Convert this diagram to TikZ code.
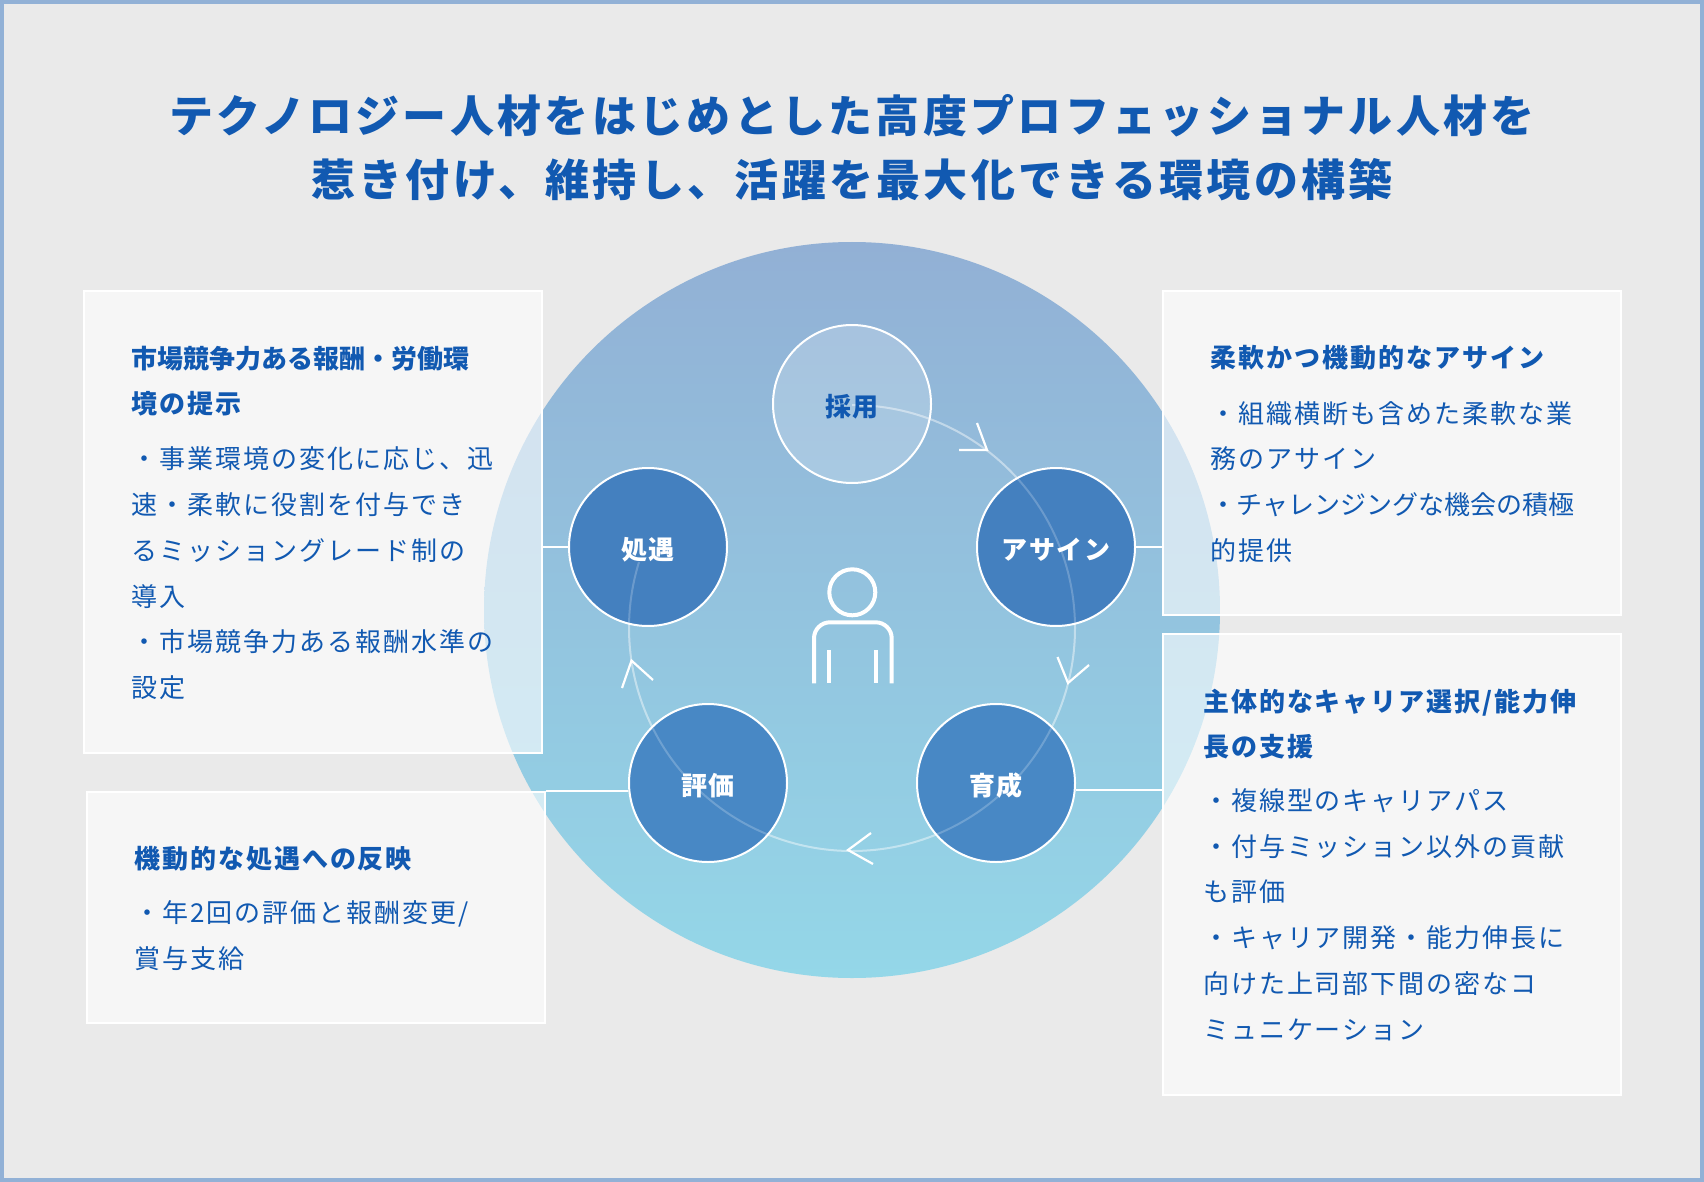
\documentclass[tikz,border=0pt]{standalone}
\usepackage{xcolor}
\usepackage{fontspec}
\setmainfont{Noto Sans CJK JP}[LetterSpace=7.5]
\newfontfamily\titlefont{Noto Sans CJK JP}[LetterSpace=7.5]
\newfontfamily\tightfont{Noto Sans CJK JP}[LetterSpace=0]
\usepackage{tikz}
\definecolor{framecol}{HTML}{92B1D6}
\definecolor{paper}{HTML}{EAEAEA}
\definecolor{inkblue}{HTML}{1159B1}
\definecolor{discup}{HTML}{92B0D5}
\definecolor{discdown}{HTML}{94D7E8}
\definecolor{stepup}{HTML}{4480BF}
\definecolor{stepdown}{HTML}{4888C5}
\tikzset{
	infobox/.style={draw=white,line width=2pt,fill=white,fill opacity=0.6,draw opacity=1,
		anchor=north west,inner sep=0pt,minimum width=458pt},
	infotext/.style={anchor=north west,inner sep=0pt,align=left,text=inkblue,
		font=\fontsize{26}{45.7}\selectfont},
	stepcirc/.style={circle,draw=white,line width=2pt,inner sep=0pt,minimum size=158pt},
	steplabel/.style={inner sep=0pt,yshift=-3pt,font=\fontsize{26}{30}\selectfont\bfseries,text=white},
	linkline/.style={draw=white,line width=2pt},
	ringline/.style={draw=white,line width=2pt,opacity=0.29},
	ringover/.style={draw=white,line width=2pt,opacity=0.21},
	headline/.style={draw=white,line width=2.2pt},
	manline/.style={draw=white,line width=4pt}
}
\begin{document}
\begin{tikzpicture}[x=1pt,y=-1pt]
		\useasboundingbox (0,0) rectangle (1704,1182);
		\draw [line width=4pt,draw=framecol,fill=paper] (2,2) rectangle (1702,1180); %外枠
		\shade [top color=discup,bottom color=discdown] (852,610) circle [radius=368]; %大円

		\node (title) [text=inkblue,align=center,inner sep=0pt,font=\fontsize{44}{64}\selectfont\titlefont\bfseries] at (852,147.5)
			{テクノロジー人材をはじめとした高度プロフェッショナル人材を\\惹き付け、維持し、活躍を最大化できる環境の構築};

		\node (boxL) [infobox,minimum height=462pt] at (83,290) {};
		\node (boxE) [infobox,minimum height=231pt] at (86,790.5) {};
		\node (boxA) [infobox,minimum height=324pt] at (1162,290) {};
		\node (boxD) [infobox,minimum height=461pt] at (1162,633) {};

		\draw [ringline] (852,405) arc [start angle=-90,end angle=197.2,radius=223]; %循環の弧

		\node (saiyo) [stepcirc,fill=white,fill opacity=0.2,draw opacity=1] at (852,404) {};
		\node (assign) [stepcirc,fill=stepup] at (1056,547) {};
		\node (ikusei) [stepcirc,fill=stepdown] at (996,783) {};
		\node (hyoka) [stepcirc,fill=stepdown] at (708,783) {};
		\node (shogu) [stepcirc,fill=stepup] at (648,547) {};

		\draw [linkline] (shogu.west) -- (shogu.west -| boxL.east);
		\draw [linkline] (assign.east) -- (assign.east -| boxA.west);
		\draw [linkline] (ikusei.-5) -- (ikusei.-5 -| boxD.west);
		\draw [linkline] (hyoka.186.2) -- (hyoka.186.2 -| boxE.east);

		\draw [ringover] (852,405) arc [start angle=-90,end angle=197.2,radius=223];
		\draw [headline] (959,450) -- (987,450) -- (977,423); %矢印
		\draw [headline] (1057.5,657) -- (1068,683) -- (1089,665);
		\draw [headline] (871,833) -- (848,850) -- (873,864);
		\draw [headline] (622,688) -- (631.5,660.6) -- (653,680);

		\draw [manline] (852.3,592.3) circle [radius=23]; %人物
		\draw [manline,rounded corners=16pt] (814,683.3) -- (814,622.3) -- (891.7,622.3) -- (891.7,683.3);
		\draw [manline] (829,650) -- (829,683.3);
		\draw [manline] (876.3,650) -- (876.3,683.3);

		\node (saiyotxt) [steplabel,text=inkblue] at (saiyo) {採用};
		\node (assigntxt) [steplabel] at (assign) {アサイン};
		\node (ikuseitxt) [steplabel] at (ikusei) {育成};
		\node (hyokatxt) [steplabel] at (hyoka) {評価};
		\node (shogutxt) [steplabel] at (shogu) {処遇};

		\node (textL) [infotext] at (131.5,345.5) {{\tightfont\bfseries 市場競争力ある報酬・労働環}\\{\bfseries 境の提示}\\[9.5pt]
			・事業環境の変化に応じ、迅\\速・柔軟に役割を付与でき\\るミッショングレード制の\\導入\\・市場競争力ある報酬水準の\\設定};
		\node (textE) [infotext] at (134.2,846) {{\bfseries 機動的な処遇への反映}\\[8.5pt]
			・年2回の評価と報酬変更/\\賞与支給};
		\node (textA) [infotext] at (1210.7,345.5) {{\bfseries 柔軟かつ機動的なアサイン}\\[9.5pt]
			・組織横断も含めた柔軟な業\\務のアサイン\\{\tightfont ・チャレンジングな機会の積極}\\的提供};
		\node (textD) [infotext] at (1203,688.5) {{\bfseries 主体的なキャリア選択/能力伸}\\{\bfseries 長の支援}\\[8pt]
			・複線型のキャリアパス\\・付与ミッション以外の貢献\\も評価\\・キャリア開発・能力伸長に\\向けた上司部下間の密なコ\\ミュニケーション};
	\end{tikzpicture}
\end{document}
